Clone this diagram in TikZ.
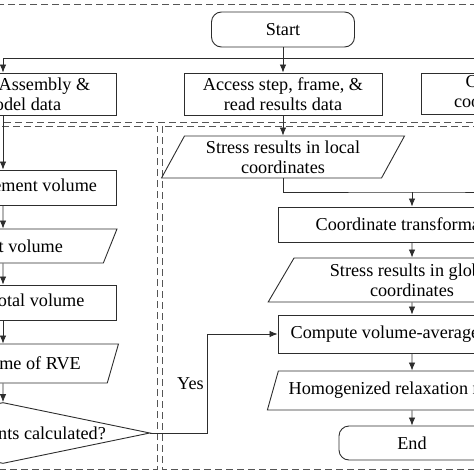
\documentclass[tikz,border=0pt]{standalone}
\usepackage{fontspec}
\setmainfont{Liberation Serif}
\usetikzlibrary{shapes.geometric,arrows.meta}
\definecolor{ink}{RGB}{45,45,45}
\definecolor{framegray}{RGB}{85,85,85}

\begin{document}
\begin{tikzpicture}[x=1pt,y=-1pt,
  font=\fontsize{18.2}{20}\selectfont,
  >={Latex[length=8pt,width=6.5pt]},
  proc/.style={draw=ink,line width=0.9pt,rectangle,align=center,inner sep=2pt},
  term/.style={proc,rounded corners=10pt},
  io/.style={draw=ink,line width=0.9pt,trapezium,trapezium left angle=63.4,trapezium right angle=116.6,trapezium stretches=true,align=center,inner sep=2pt},
  decision/.style={draw=ink,line width=0.9pt,diamond,aspect=4.8,inner sep=0pt,align=center},
  flow/.style={draw=ink,line width=0.8pt,->},
  group/.style={draw=framegray,line width=0.9pt,dash pattern=on 7pt off 4pt}]
\useasboundingbox (0,0) rectangle (474,474);

% dashed regions
\draw[group] (-10,4) rectangle (484,122); % top region
\draw[group] (-10,126) rectangle (157,469); % left region
\draw[group] (162,126) rectangle (484,469); % right region

% top row
\node[term,minimum width=143pt,minimum height=35pt] (start) at (283,29.5) {Start};
\node[proc,minimum width=226pt,minimum height=42pt] (assembly) at (3,94) {Access the Assembly \&\\read model data};
\node[proc,minimum width=198pt,minimum height=42pt] (access) at (283,94) {Access step, frame, \&\\read results data};
\node[proc,minimum width=198pt,minimum height=41pt] (locsys) at (520,93.5) {Calculate local\\coordinate system};
\coordinate (split) at (283,58);

% left column: RVE volume
\node[proc,minimum width=226pt,minimum height=35pt] (elemvol) at (3,187.5) {Compute element volume};
\node[io,minimum width=228pt,minimum height=34pt] (elemdata) at (3,246) {Element volume};
\node[proc,minimum width=226pt,minimum height=35pt] (totvol) at (3,302.5) {Compute total volume};
\node[io,minimum width=231pt,minimum height=39pt] (rvevol) at (3,363.5) {Total volume of RVE};
\node[decision,minimum width=294pt,minimum height=61pt] (alldone) at (3,433) {Are all elements calculated?};

% right column: stresses
\node[io,minimum width=243pt,minimum height=42pt] (locstress) at (283,157) {Stress results in local\\coordinates};
\coordinate (merge) at (412,192);
\node[proc,minimum width=268pt,minimum height=35pt] (transform) at (412,224.5) {Coordinate transformation};
\node[io,minimum width=288pt,minimum height=44pt] (globstress) at (412,280) {Stress results in global\\coordinates};
\node[proc,minimum width=268pt,minimum height=38pt] (average) at (412,334) {Compute volume-averaged stress};
\node[io,minimum width=290pt,minimum height=39pt] (homog) at (412,390.5) {Homogenized relaxation modulus};
\node[term,minimum width=146pt,minimum height=34pt] (finish) at (412,443) {End};

% connectors
\draw[flow] (start) -- (access);
\draw[flow] (split) -| (assembly);
\draw[flow] (split) -| (locsys);
\draw[flow] (assembly) -- (elemvol);
\draw[flow] (elemvol) -- (elemdata);
\draw[flow] (elemdata) -- (totvol);
\draw[flow] (totvol) -- (rvevol);
\draw[flow] (rvevol) -- (alldone);
\draw[flow] (access) -- (locstress);
\draw[draw=ink,line width=0.8pt] (locstress) |- (merge) -- (merge -| locsys);
\draw[flow] (merge) -- (transform);
\draw[flow] (transform) -- (globstress);
\draw[flow] (globstress) -- (average);
\draw[flow] (average) -- (homog);
\draw[flow] (homog) -- (finish);
\draw[flow] (alldone.east) -- ++(57,0) |- (average.west) node[pos=0.25,left] {Yes}; % yes branch
\end{tikzpicture}
\end{document}
